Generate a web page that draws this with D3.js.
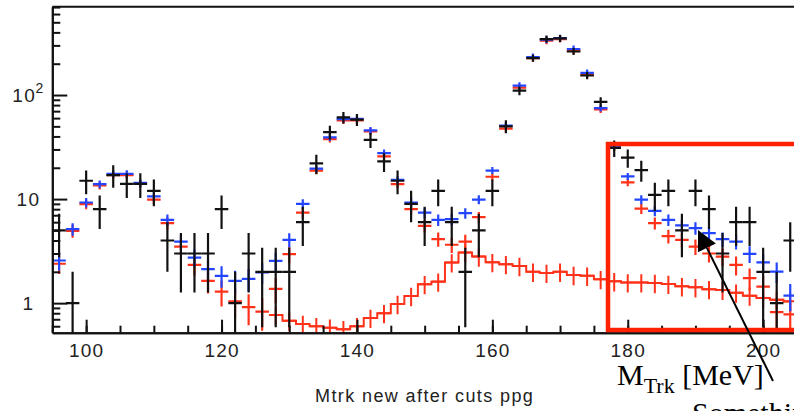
<!DOCTYPE html>
<html>
<head>
<meta charset="utf-8">
<script src="https://cdn.jsdelivr.net/npm/d3@7"></script>
<style>
  body { margin: 0; background: #fff; }
  svg { display: block; }
</style>
</head>
<body>
<div id="chart"></div>
<script>
// bin centres (MeV), bins are 2 MeV wide
const binCenters = [
    96, 98, 100, 102, 104, 106, 108, 110, 112, 114,
    116, 118, 120, 122, 124, 126, 128, 130, 132, 134,
    136, 138, 140, 142, 144, 146, 148, 150, 152, 154,
    156, 158, 160, 162, 164, 166, 168, 170, 172, 174,
    176, 178, 180, 182, 184, 186, 188, 190, 192, 194,
    196, 198, 200, 202, 204
];
const binWidth = 2;

// data (black, counts)
const dataCounts = [
    5, 1, 15, 8, 17, 14, 14, 12, 4, 3,
    3, 3, 8, 1, 3, 2, 2, 2, 6, 22,
    44, 61, 58, 37, 23, 15, 9, 6, 12, 6,
    2, 5, 12, 50, 110, 226, 345, 350, 262, 154,
    86, 31, 25, 19, 11, 12, 5, 12, 8, 3,
    6, 6, 2, 1, 4
];

// MC total (blue)
const mcTotal = [
    2.57, 5.15, 9.27, 13.9, 17.5, 17.5, 14.3, 10.6, 6.32, 3.91,
    2.74, 2.12, 1.83, 1.64, 1.71, 1.97, 2.55, 4.06, 9.0, 19.6,
    39.1, 58.8, 59, 45.7, 27.7, 15.3, 9.27, 7.4, 6.32, 6.42,
    7.33, 9.9, 18.8, 50.7, 123, 232, 340, 352, 277, 163,
    75, 32, 16.5, 9.9, 7.7, 6.3, 5.58, 5.26, 4.7, 4.12,
    3.91, 2.98, 2.46, 2.01, 1.18
];

// MC peaks (red, upper)
const mcPeaks = [
    2.39, 4.95, 8.94, 13.5, 17, 17, 14, 9.9, 5.87, 3.5,
    2.33, 1.64, 1.29, 1.04, 0.915, 0.83, 1.37, 2.96, 7.4, 18.8,
    37.7, 57, 57, 44.6, 25.7, 13.9, 8.0, 5.53, 4.12, 3.64,
    3.91, 6.7, 16.4, 47.5, 118, 226, 333, 345, 267, 156,
    72.7, 31.3, 14.5, 8.1, 5.87, 4.4, 4.06, 3.5, 3.0, 2.8,
    2.33, 1.74, 1.44, 0.82, 0.78
];

// MC background (red, broad)
const mcBackground = [
    null, null, null, null, null, null, null, null, null, null,
    null, null, null, null, null, null, 0.77, 0.676, 0.63, 0.6,
    0.58, 0.56, 0.6, 0.72, 0.8, 0.98, 1.17, 1.52, 1.61, 2.46,
    3.07, 2.8, 2.47, 2.37, 2.27, 2.0, 1.95, 2.0, 1.86, 1.83,
    1.7, 1.62, 1.58, 1.58, 1.56, 1.53, 1.45, 1.42, 1.36, 1.34,
    1.26, 1.18, 1.12, 1.08, 1.04
];

const xTickLabels = ["100", "120", "140", "160", "180", "200"];

const mcWeight = 0.1;      // error on MC = sqrt(w * content)
const bgRelError = 0.2;

const width = 794, height = 411;
const plotLeft = 52.3, plotTop = 6.7, plotBottom = 332.7;

const x = d3.scaleLinear().domain([95, 210]).range([plotLeft, plotLeft + 115 * 6.77]);
const y = d3.scaleLog().domain([0.52, 706]).range([plotBottom, plotTop]);

const svg = d3.select("#chart").append("svg")
    .attr("width", width)
    .attr("height", height)
    .style("background", "#fff");

svg.append("clipPath").attr("id", "plot")
    .append("rect")
    .attr("x", plotLeft).attr("y", plotTop)
    .attr("width", width).attr("height", plotBottom - plotTop);

const plot = svg.append("g").attr("clip-path", "url(#plot)");

// build points with error ranges
function points(values, errFn) {
    return binCenters.map((b, i) => {
        const v = values[i];
        if (v == null) return null;
        const e = errFn(v);
        return { b, v, hi: v + e, lo: v - e };
    }).filter(d => d);
}

function crossPath(d) {
    const cy = y(d.v);
    const minHalf = 3.5;
    const yHi = Math.min(y(d.hi), cy - minHalf);
    const yLo = d.lo > 0 ? Math.max(y(d.lo), cy + minHalf) : plotBottom + 10;
    return `M${x(d.b - binWidth / 2)},${cy}H${x(d.b + binWidth / 2)}` +
        `M${x(d.b)},${yHi}V${yLo}`;
}

function drawCrosses(data, color, w) {
    plot.append("g")
        .selectAll("path")
        .data(data)
        .join("path")
        .attr("d", crossPath)
        .attr("fill", "none")
        .attr("stroke", color)
        .attr("stroke-width", w);
}

const red = "#ff3219";
const blue = "#2345ff";
const black = "#111";

// background drawn as histogram outline + error bars
const bgPts = points(mcBackground, v => bgRelError * v);
plot.append("path")
    .datum(bgPts)
    .attr("d", d3.line().x(d => x(d.b)).y(d => y(d.v)).curve(d3.curveStep))
    .attr("fill", "none")
    .attr("stroke", red)
    .attr("stroke-width", 2);
drawCrosses(bgPts, red, 2);

drawCrosses(points(mcPeaks, v => Math.sqrt(mcWeight * v)), red, 2.2);
drawCrosses(points(mcTotal, v => Math.sqrt(mcWeight * v)), blue, 2.2);
drawCrosses(points(dataCounts, v => Math.sqrt(v)), black, 2.2);

// axes, ROOT style: ticks inside the frame
svg.append("g")
    .attr("transform", `translate(0,${plotBottom})`)
    .call(d3.axisBottom(x).ticks(23).tickSize(-7).tickSizeOuter(0).tickFormat(""));
const xMajor = svg.append("g")
    .attr("transform", `translate(0,${plotBottom})`)
    .call(d3.axisBottom(x).ticks(6).tickSize(-13).tickSizeOuter(0).tickPadding(10.5)
        .tickFormat((d, i) => xTickLabels[i]));

const yTicks = y.ticks();
const isMajor = d => Math.abs(Math.log10(d) - Math.round(Math.log10(d))) < 1e-9;
svg.append("g")
    .attr("transform", `translate(${plotLeft},0)`)
    .call(d3.axisLeft(y).tickValues(yTicks.filter(d => !isMajor(d))).tickSize(-8).tickSizeOuter(0).tickFormat(""));
svg.append("g")
    .attr("transform", `translate(${plotLeft},0)`)
    .call(d3.axisLeft(y).tickValues(yTicks.filter(isMajor)).tickSize(-15).tickSizeOuter(0).tickFormat(""));

svg.selectAll(".domain, .tick line")
    .attr("stroke", black)
    .attr("stroke-width", 2);

xMajor.selectAll("text")
    .attr("font-family", "Liberation Sans, Arial, sans-serif")
    .attr("font-size", 19)
    .attr("letter-spacing", 1.2)
    .attr("fill", "#222");

// top frame line
svg.append("line")
    .attr("x1", plotLeft).attr("x2", width)
    .attr("y1", plotTop).attr("y2", plotTop)
    .attr("stroke", black).attr("stroke-width", 2);

// y labels: 1, 10, 10^2
const yLabels = svg.append("g")
    .attr("font-family", "Liberation Sans, Arial, sans-serif")
    .attr("fill", "#222")
    .attr("text-anchor", "middle");
yTicks.filter(isMajor).forEach(d => {
    const p = Math.round(Math.log10(d));
    const t = yLabels.append("text")
        .attr("x", 28.5)
        .attr("y", y(d) + 7)
        .attr("font-size", 19)
        .attr("letter-spacing", 1.5);
    if (p < 2) {
        t.text(String(d));
    } else {
        t.append("tspan").text("10");
        t.append("tspan").attr("font-size", 14).attr("dy", -9).attr("dx", -1).text(p);
    }
});

// x title
svg.append("text")
    .attr("x", 315)
    .attr("y", 402)
    .attr("font-family", "Liberation Sans, Arial, sans-serif")
    .attr("font-size", 18)
    .attr("letter-spacing", 1.4)
    .attr("fill", "#222")
    .text("Mtrk new after cuts ppg");

// annotation overlay: box, arrow and labels
svg.append("rect")
    .attr("x", 608).attr("y", 144)
    .attr("width", 300).attr("height", 186)
    .attr("fill", "none")
    .attr("stroke", "#ff2200")
    .attr("stroke-width", 4.5);

const tail = [773, 381], tip = [698, 230];
const len = Math.hypot(tip[0] - tail[0], tip[1] - tail[1]);
const ux = (tip[0] - tail[0]) / len, uy = (tip[1] - tail[1]) / len;
const headLen = 20, headHalf = 10;
const base = [tip[0] - ux * headLen, tip[1] - uy * headLen];
svg.append("line")
    .attr("x1", tail[0]).attr("y1", tail[1])
    .attr("x2", base[0]).attr("y2", base[1])
    .attr("stroke", "#000").attr("stroke-width", 2);
svg.append("polygon")
    .attr("points", [
        tip,
        [base[0] - uy * headHalf, base[1] + ux * headHalf],
        [base[0] + uy * headHalf, base[1] - ux * headHalf]
    ].map(p => p.join(",")).join(" "))
    .attr("fill", "#000");

const mLabel = svg.append("text")
    .attr("x", 617)
    .attr("y", 385)
    .attr("font-family", "Liberation Serif, Times New Roman, serif")
    .attr("font-size", 30)
    .attr("fill", "#000");
mLabel.append("tspan").text("M");
mLabel.append("tspan").attr("font-size", 22).attr("dy", 8).text("Trk");
mLabel.append("tspan").attr("dy", -8).text(" [MeV]");

svg.append("text")
    .attr("x", 692)
    .attr("y", 423)
    .attr("font-family", "Liberation Serif, Times New Roman, serif")
    .attr("font-size", 30)
    .attr("fill", "#000")
    .text("Something");
</script>
</body>
</html>
